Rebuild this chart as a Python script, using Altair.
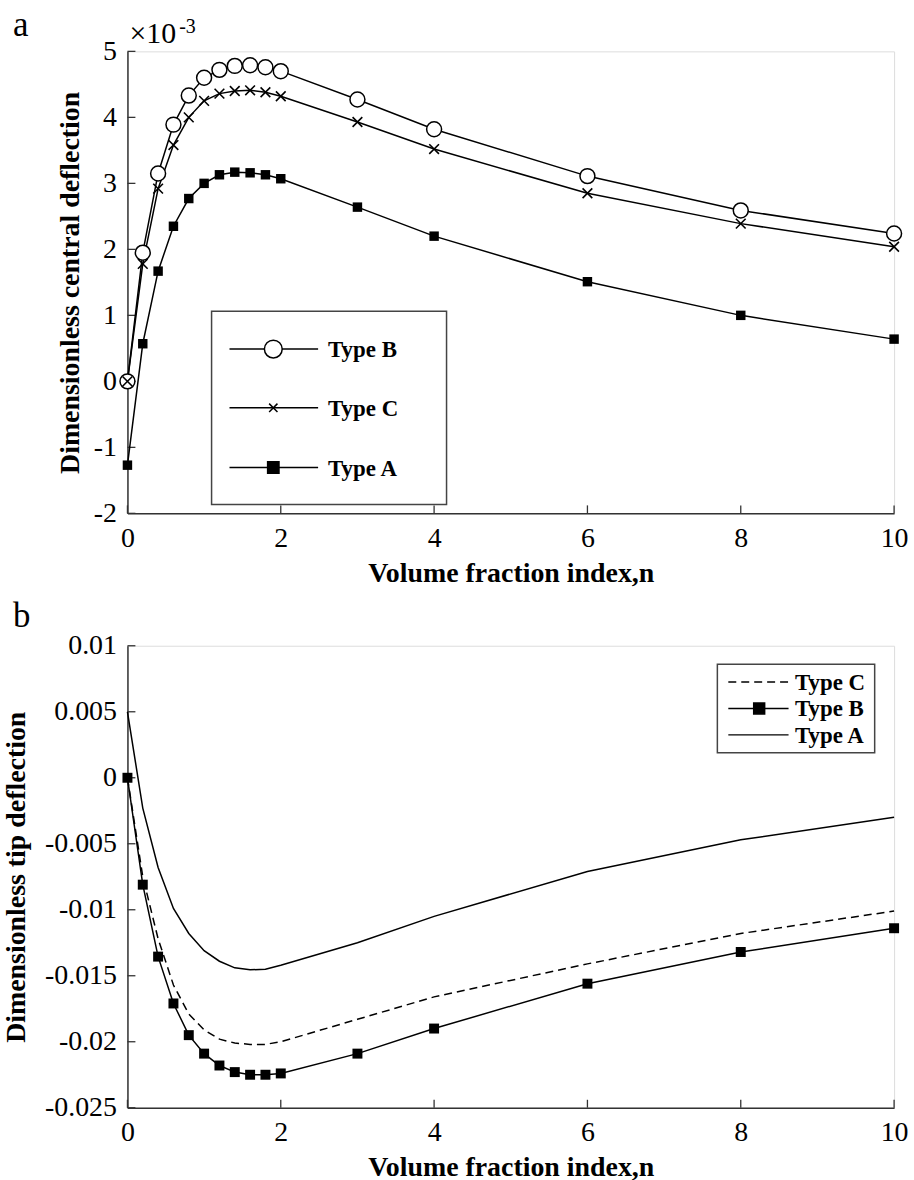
import altair as alt
import pandas as pd

# Volume fraction index values where the deflections were evaluated
n_values = [0, 0.2, 0.4, 0.6, 0.8, 1.0, 1.2, 1.4, 1.6, 1.8, 2, 3, 4, 6, 8, 10]

# (a) dimensionless central deflection, in units of 1e-3
central_type_b = [0, 1.95, 3.15, 3.89, 4.33, 4.60, 4.72, 4.78, 4.79, 4.76, 4.70, 4.27, 3.82, 3.11, 2.59, 2.24]
central_type_c = [0, 1.78, 2.92, 3.58, 4.00, 4.25, 4.36, 4.40, 4.41, 4.38, 4.32, 3.93, 3.52, 2.85, 2.39, 2.04]
central_type_a = [-1.27, 0.57, 1.67, 2.35, 2.77, 3.00, 3.13, 3.17, 3.16, 3.13, 3.07, 2.64, 2.20, 1.51, 1.00, 0.64]

# (b) dimensionless tip deflection
tip_type_c = [0, -0.0075, -0.0122, -0.0157, -0.0179, -0.0191, -0.0198, -0.0201, -0.0202, -0.0202, -0.0200, -0.0183, -0.0166, -0.0141, -0.0118, -0.0101]
tip_type_b = [0, -0.0081, -0.01355, -0.0171, -0.0195, -0.0209, -0.0218, -0.0223, -0.0225, -0.0225, -0.0224, -0.0209, -0.0190, -0.0156, -0.0132, -0.0114]
tip_type_a = [0.005, -0.0023, -0.0068, -0.0099, -0.0118, -0.0131, -0.0139, -0.0144, -0.01455, -0.0145, -0.0142, -0.0125, -0.0105, -0.0071, -0.0047, -0.0030]

# Axis ticks
x_ticks = [0, 2, 4, 6, 8, 10]
central_ticks = [-2, -1, 0, 1, 2, 3, 4, 5]
tip_ticks = [-0.025, -0.02, -0.015, -0.01, -0.005, 0, 0.005, 0.01]

FONT = "Liberation Serif"
W, H = 770, 464
INK = "black"
AXIS_INK = "#333333"
CROSS = "M -1 -1 L 1 1 M -1 1 L 1 -1"


def frame(rows):
    return pd.DataFrame(rows)


def long_table(series):
    rows = []
    for name, values in series.items():
        for xv, yv in zip(n_values, values):
            rows.append({"n": xv, "value": yv, "type": name})
    return pd.DataFrame(rows)


signed = "(datum.value < 0 ? '-' : '') + format(abs(datum.value), '')"


def encodings(y_domain, y_ticks, y_title, y_title_pad):
    x_enc = alt.X(
        "n:Q",
        scale=alt.Scale(domain=[0, 10], nice=False, zero=False),
        axis=alt.Axis(
            values=x_ticks, ticks=False, grid=False, title="Volume fraction index,n",
            labelFont=FONT, labelFontSize=28, labelColor=INK, labelPadding=11,
            titleFont=FONT, titleFontSize=28, titleFontWeight="bold", titleColor=INK,
            titlePadding=7, domainColor=AXIS_INK, domainWidth=1.5, labelFlush=False,
        ),
    )
    y_enc = alt.Y(
        "value:Q",
        scale=alt.Scale(domain=y_domain, nice=False, zero=False),
        axis=alt.Axis(
            values=y_ticks, ticks=False, grid=False, title=y_title,
            labelFont=FONT, labelFontSize=28, labelColor=INK, labelPadding=11,
            labelExpr=signed, labelFlush=False,
            titleFont=FONT, titleFontSize=28, titleFontWeight="bold", titleColor=INK,
            titlePadding=y_title_pad, domainColor=AXIS_INK, domainWidth=1.5,
        ),
    )
    return x_enc, y_enc


def tick_layers(x_enc, y_enc, y_ticks):
    ty = alt.Chart(frame({"value": y_ticks})).mark_rule(color=AXIS_INK, strokeWidth=1.3).encode(
        y=y_enc, x=alt.value(0), x2=alt.value(8)
    )
    tx = alt.Chart(frame({"n": x_ticks})).mark_rule(color=AXIS_INK, strokeWidth=1.3).encode(
        x=x_enc, y=alt.value(H), y2=alt.value(H - 8)
    )
    return [ty, tx]


def legend_layers(entries, box, line_x, marker_x, text_x, font_size):
    x0, y0, x1, y1 = box
    layers = [
        alt.Chart(frame({"k": [0]})).mark_rect(
            fill="white", stroke="#444444", strokeWidth=1.5
        ).encode(x=alt.value(x0), x2=alt.value(x1), y=alt.value(y0), y2=alt.value(y1))
    ]
    for label, row_y, style in entries:
        line_props = dict(color=INK, strokeWidth=1.5)
        if style.get("dash"):
            line_props["strokeDash"] = style["dash"]
        layers.append(
            alt.Chart(frame({"k": [0]})).mark_rule(**line_props).encode(
                x=alt.value(line_x[0]), x2=alt.value(line_x[1]), y=alt.value(row_y)
            )
        )
        if style.get("shape"):
            layers.append(
                alt.Chart(frame({"k": [0]})).mark_point(
                    shape=style["shape"], size=style["size"], filled=style["filled"],
                    fill=style["fill"], stroke=INK, strokeWidth=1.5, opacity=1,
                ).encode(x=alt.value(marker_x), y=alt.value(row_y))
            )
        layers.append(
            alt.Chart(frame({"label": [label]})).mark_text(
                font=FONT, fontSize=font_size, fontWeight="bold", color=INK,
                align="left", baseline="middle",
            ).encode(text="label:N", x=alt.value(text_x), y=alt.value(row_y + 1))
        )
    return layers


def panel_letter(letter, dy):
    return alt.Chart(frame({"label": [letter]})).mark_text(
        font=FONT, fontSize=35, color=INK, align="left", baseline="alphabetic"
    ).encode(text="label:N", x=alt.value(-115), y=alt.value(dy))


# ---------------- panel (a) ----------------
central = long_table({"Type B": central_type_b, "Type C": central_type_c, "Type A": central_type_a})
xa, ya = encodings([-2, 5], central_ticks, "Dimensionless central deflection", 9)

base_a = alt.Chart(central)
lines_a = base_a.mark_line(color=INK, strokeWidth=1.5).encode(x=xa, y=ya, detail="type:N")
sq_a = base_a.transform_filter(alt.datum.type == "Type A").mark_point(
    shape="square", size=90, filled=True, color=INK, opacity=1
).encode(x=xa, y=ya)
circ_b = base_a.transform_filter(alt.datum.type == "Type B").mark_point(
    shape="circle", size=225, filled=True, fill="white", stroke=INK, strokeWidth=1.5, opacity=1
).encode(x=xa, y=ya)
cross_c = base_a.transform_filter(alt.datum.type == "Type C").mark_point(
    shape=CROSS, size=95, filled=False, stroke=INK, strokeWidth=1.6, opacity=1
).encode(x=xa, y=ya)

exponent = alt.Chart(frame({"n": [0], "value": [5], "label": ["×10"]})).mark_text(
    font=FONT, fontSize=30, color=INK, align="left", baseline="alphabetic", dx=2, dy=-8
).encode(x=xa, y=ya, text="label:N")
exponent_power = alt.Chart(frame({"n": [0], "value": [5], "label": ["-3"]})).mark_text(
    font=FONT, fontSize=20, color=INK, align="left", baseline="alphabetic", dx=52, dy=-18
).encode(x=xa, y=ya, text="label:N")

legend_a = legend_layers(
    [
        ("Type B", 299, {"shape": "circle", "size": 320, "filled": True, "fill": "white"}),
        ("Type C", 358, {"shape": CROSS, "size": 70, "filled": False, "fill": None}),
        ("Type A", 418, {"shape": "square", "size": 130, "filled": True, "fill": INK}),
    ],
    box=(84.5, 261, 320.5, 455),
    line_x=(102.5, 191.5),
    marker_x=146.5,
    text_x=201.5,
    font_size=23,
)

chart_a = alt.layer(
    *tick_layers(xa, ya, central_ticks),
    lines_a, sq_a, circ_b, cross_c, exponent, exponent_power,
    *legend_a,
    panel_letter("a", -15),
).properties(width=W, height=H)

# ---------------- panel (b) ----------------
tip = long_table({"Type C": tip_type_c, "Type B": tip_type_b, "Type A": tip_type_a})
xb, yb = encodings([-0.025, 0.01], tip_ticks, "Dimensionless tip deflection", 14)

base_b = alt.Chart(tip)
line_c = base_b.transform_filter(alt.datum.type == "Type C").mark_line(
    color=INK, strokeWidth=1.5, strokeDash=[8, 5]
).encode(x=xb, y=yb)
line_b = base_b.transform_filter(alt.datum.type == "Type B").mark_line(
    color=INK, strokeWidth=1.5
).encode(x=xb, y=yb)
line_a = base_b.transform_filter(alt.datum.type == "Type A").mark_line(
    color=INK, strokeWidth=1.5
).encode(x=xb, y=yb)
sq_b = base_b.transform_filter(alt.datum.type == "Type B").mark_point(
    shape="square", size=100, filled=True, color=INK, opacity=1
).encode(x=xb, y=yb)

legend_b = legend_layers(
    [
        ("Type C", 36.5, {"dash": [8, 5]}),
        ("Type B", 63, {"shape": "square", "size": 121, "filled": True, "fill": INK}),
        ("Type A", 89.5, {}),
    ],
    box=(592.5, 18.5, 750.5, 107.5),
    line_x=(603.5, 664),
    marker_x=634.5,
    text_x=670.5,
    font_size=23,
)

chart_b = alt.layer(
    *tick_layers(xb, yb, tip_ticks),
    line_a, line_c, line_b, sq_b,
    *legend_b,
    panel_letter("b", -19),
).properties(width=W, height=H)

chart = (
    alt.vconcat(chart_a, chart_b, spacing=10)
    .properties(padding={"left": 2, "top": 5, "right": 5, "bottom": 0})
    .configure_view(stroke=None)
    .configure(background="white")
)

chart.save("out.html", embed_options={"renderer": "svg", "actions": False})
